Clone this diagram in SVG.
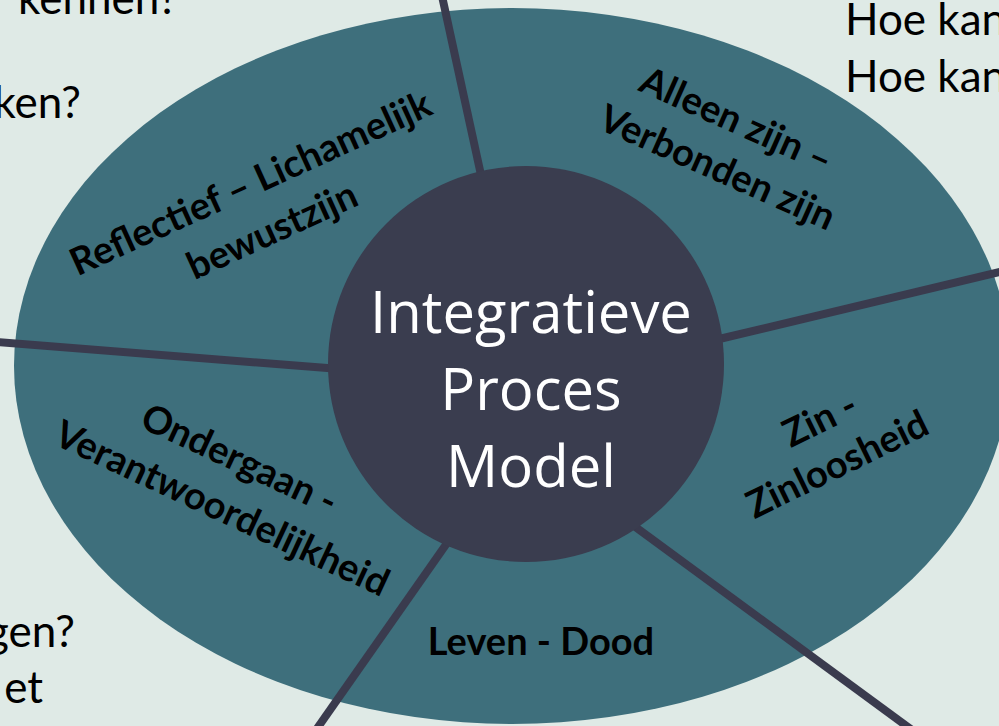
<svg xmlns="http://www.w3.org/2000/svg" width="999" height="726" viewBox="0 0 999 726">
<style>
.bg{font-family:Lato,"Liberation Sans",sans-serif;font-size:44px;fill:#000}
.lbl{font-family:Lato,"Liberation Sans",sans-serif;font-size:38px;font-weight:bold;fill:#000;text-anchor:middle}
.ctr{font-family:"Open Sans","Noto Sans",sans-serif;font-size:58px;fill:#fff;text-anchor:middle}
.spoke{stroke:#3a3b4e;stroke-width:8;fill:none}
</style>
<rect width="999" height="726" fill="#dfeae6"/>
<g id="background-text">
<text class="bg" x="178" y="14" text-anchor="end">kennen?</text>
<text class="bg" x="81" y="118" text-anchor="end">ken?</text>
<text class="bg" x="75" y="647" text-anchor="end">gen?</text>
<text class="bg" x="43" y="703" text-anchor="end">et</text>
<text class="bg" x="845" y="35">Hoe kan</text>
<text class="bg" x="845" y="92">Hoe kan</text>
</g>
<g id="ring">
<ellipse cx="512" cy="366" rx="498" ry="358" fill="#3e6f7c"/>
</g>
<g id="connectors">
<line class="spoke" x1="442" y1="-4" x2="481" y2="175"/>
<line class="spoke" x1="715" y1="340" x2="1004" y2="271"/>
<line class="spoke" x1="-4" y1="342" x2="340" y2="369"/>
<line class="spoke" x1="452" y1="536" x2="316" y2="730"/>
<line class="spoke" x1="630" y1="523" x2="912" y2="730"/>
</g>
<g id="center">
<circle cx="526" cy="364" r="198" fill="#3a3d4f"/>
<text class="ctr" x="531" y="333">Integratieve</text>
<text class="ctr" x="531" y="410">Proces</text>
<text class="ctr" x="531" y="487">Model</text>
</g>
<g id="reflectief" transform="translate(256,195) rotate(-24.5)">
<text class="lbl" x="0" y="0">Reflectief – Lichamelijk</text>
<text class="lbl" x="0" y="52">bewustzijn</text>
</g>
<g id="alleen" transform="translate(731,132) rotate(24)">
<text class="lbl" x="0" y="0">Alleen zijn –</text>
<text class="lbl" x="2" y="51">Verbonden zijn</text>
</g>
<g id="zin" transform="translate(843,476) rotate(-26)">
<text class="lbl" x="4" y="-48">Zin -</text>
<text class="lbl" x="0" y="0">Zinloosheid</text>
</g>
<g id="ondergaan" transform="translate(234,471) rotate(25)">
<text class="lbl" x="0" y="0">Ondergaan -</text>
<text class="lbl" x="5" y="52">Verantwoordelijkheid</text>
</g>
<g id="leven">
<text class="lbl" x="541" y="655">Leven - Dood</text>
</g>
</svg>
